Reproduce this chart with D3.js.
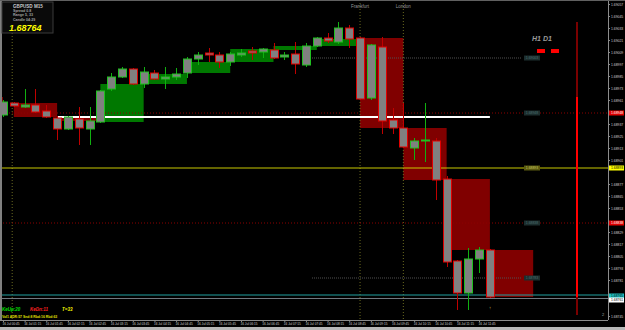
<!DOCTYPE html>
<head>
<meta charset="utf-8">
<script src="https://d3js.org/d3.v7.min.js"></script>
<style>
    body { margin: 0; background: #000; }
    text { font-family: "Liberation Sans", "DejaVu Sans", sans-serif; }
    .yAxis text, .xAxis text { fill: #d0d0d0; font-size: 3.4px; }
    .yAxis path.domain, .xAxis path.domain { stroke: #8c8c8c; }
    .yAxis .tick line, .xAxis .tick line { stroke: #8c8c8c; }
</style>
</head>
<body>
<div id="chart"></div>
<script>
// M15 candles, GBPUSD
var times = ["00:45","01:00","01:15","01:30","01:45","02:00","02:15","02:30","02:45","03:00",
    "03:15","03:30","03:45","04:00","04:15","04:30","04:45","05:00","05:15","05:30",
    "05:45","06:00","06:15","06:30","06:45","07:00","07:15","07:30","07:45","08:00",
    "08:15","08:30","08:45","09:00","09:15","09:30","09:45","10:00","10:15","10:30",
    "10:45","11:00","11:15","11:30","11:45","12:00"];
var opens  = [1.68946,1.68958,1.68954,1.68956,1.68950,1.68943,1.68932,1.68942,1.68932,1.68939,
    1.68972,1.68984,1.68992,1.68977,1.68988,1.68982,1.68984,1.68988,1.69002,1.69008,
    1.69006,1.68999,1.69006,1.69010,1.69009,1.69011,1.69004,1.69007,1.68996,1.69015,
    1.69023,1.69019,1.69033,1.69023,1.68963,1.69014,1.68941,1.68933,1.68913,1.68920,
    1.68920,1.68882,1.68800,1.68768,1.68802,1.68811];
var highs  = [1.68961,1.68959,1.68972,1.68972,1.68956,1.68945,1.68945,1.68954,1.68954,1.68971,
    1.68988,1.68994,1.68993,1.68994,1.68991,1.68994,1.68993,1.69004,1.69009,1.69013,
    1.69009,1.69009,1.69012,1.69014,1.69013,1.69018,1.69009,1.69019,1.69018,1.69024,
    1.69028,1.69039,1.69036,1.69024,1.69017,1.69024,1.68953,1.68958,1.68923,1.68958,
    1.68923,1.68885,1.68801,1.68813,1.68814,1.68812];
var lows   = [1.68944,1.68954,1.68953,1.68948,1.68943,1.68921,1.68931,1.68916,1.68916,1.68938,
    1.68970,1.68983,1.68976,1.68973,1.68981,1.68972,1.68981,1.68983,1.68996,1.68999,
    1.68993,1.68995,1.69004,1.69001,1.69003,1.69002,1.69001,1.68987,1.68994,1.69014,
    1.69018,1.69017,1.69013,1.68961,1.68961,1.68927,1.68927,1.68913,1.68901,1.68899,
    1.68861,1.68794,1.68751,1.68751,1.68788,1.68763];
var closes = [1.68959,1.68955,1.68956,1.68949,1.68944,1.68932,1.68944,1.68933,1.68940,1.68970,
    1.68984,1.68992,1.68977,1.68989,1.68982,1.68984,1.68987,1.69002,1.69006,1.69006,
    1.68999,1.69007,1.69008,1.69008,1.69012,1.69003,1.69006,1.68997,1.69015,1.69023,
    1.69020,1.69033,1.69022,1.68962,1.69016,1.68940,1.68933,1.68914,1.68920,1.68921,
    1.68881,1.68799,1.68768,1.68802,1.68811,1.68764];
var prevHourOpen = 1.68964;

var priceTicks = [1.68745,1.68757,1.68769,1.68781,1.68793,1.68805,1.68817,1.68829,1.68841,
    1.68853,1.68865,1.68877,1.68889,1.68901,1.68913,1.68925,1.68937,1.68949,1.68961,
    1.68973,1.68985,1.68997,1.69009,1.69021,1.69033,1.69045,1.69057];

// levels
var pivotLevels = [1.69003, 1.68948, 1.68893, 1.68838, 1.68783];
var whiteLevel = 1.68944;
var bidPrice = 1.68764, askLine = 1.68766, bidLine = 1.68763;
var rangeBar = [1.69039, 1.68964, 1.68764, 1.68746];

var width = 625, height = 330;
var plotRight = 608, plotBottom = 320;

var svg = d3.select("#chart").append("svg")
    .attr("width", width)
    .attr("height", height)
    .style("display", "block")
    .style("background", "#000");

var y = d3.scaleLinear().domain([1.69061, 1.68743]).range([0, 318]);
var x = d3.scaleLinear().domain([0, 45]).range([3, 3 + 45 * 10.82]);
var bodyW = 8;

var candles = times.map((t, i) => ({
    t: t, i: i, o: opens[i], h: highs[i], l: lows[i], c: closes[i]
}));

// H1 boxes: first hour holds only the first candle
var hours = [{ start: -4, o: prevHourOpen, c: closes[0] }];
for (let s = 1; s < candles.length; s += 4) {
    let grp = candles.slice(s, s + 4);
    hours.push({ start: s, o: grp[0].o, c: grp[grp.length - 1].c });
}

svg.selectAll("rect.hbox")
    .data(hours)
    .enter()
    .append("rect")
    .attr("class", "hbox")
    .attr("x", d => Math.max(0, x(d.start)))
    .attr("width", d => x(d.start + 4) - Math.max(0, x(d.start)))
    .attr("y", d => y(Math.max(d.o, d.c)))
    .attr("height", d => Math.max(2, Math.abs(y(d.o) - y(d.c))))
    .style("fill", d => d.c >= d.o ? "#007800" : "#800000");

// session lines
var sessions = [{ i: 0.85, name: "" }, { i: 33, name: "Frankfurt" }, { i: 37, name: "London" }];
svg.selectAll("line.session")
    .data(sessions)
    .enter()
    .append("line")
    .attr("x1", d => x(d.i)).attr("x2", d => x(d.i))
    .attr("y1", 0).attr("y2", plotBottom)
    .style("stroke", "#6b6b20")
    .style("stroke-dasharray", "1,2");
svg.selectAll("text.session")
    .data(sessions)
    .enter()
    .append("text")
    .attr("x", d => x(d.i))
    .attr("y", 8)
    .style("text-anchor", "middle")
    .style("font-size", "4.5px")
    .style("fill", "#9a9a9a")
    .text(d => d.name);

// pivot levels
var levelStyle = [
    { col: "#505050", dash: "1,1", x1: 312 },
    { col: "#8b0000", dash: "1,2", x1: 0 },
    { col: "#c8c800", dash: null, x1: 0 },
    { col: "#8b0000", dash: "1,2", x1: 0 },
    { col: "#505050", dash: "1,1", x1: 312 }
];
svg.selectAll("line.level")
    .data(pivotLevels)
    .enter()
    .append("line")
    .attr("x1", (d, i) => levelStyle[i].x1)
    .attr("x2", (d, i) => levelStyle[i].dash == "1,1" ? 522 : plotRight)
    .attr("y1", d => y(d)).attr("y2", d => y(d))
    .style("stroke", (d, i) => levelStyle[i].col)
    .style("stroke-dasharray", (d, i) => levelStyle[i].dash);
svg.selectAll("rect.levelLabel")
    .data(pivotLevels)
    .enter()
    .append("rect")
    .attr("x", 524).attr("width", 16)
    .attr("y", d => y(d) - 2.5).attr("height", 5)
    .style("fill", (d, i) => i == 2 ? "#5a5a10" : "#1c2e2e");
svg.selectAll("text.levelLabel")
    .data(pivotLevels)
    .enter()
    .append("text")
    .attr("x", 532).attr("y", d => y(d) + 1.3)
    .style("text-anchor", "middle")
    .style("font-size", "3.4px")
    .style("fill", (d, i) => i == 2 ? "#c8c860" : "#4d6f6f")
    .text(d => d3.format(".5f")(d));

// white level line
svg.append("line")
    .attr("x1", x(5)).attr("x2", x(45))
    .attr("y1", y(whiteLevel)).attr("y2", y(whiteLevel))
    .style("stroke", "#ffffff").style("stroke-width", 2);

// bid / ask lines
svg.append("line")
    .attr("x1", 0).attr("x2", plotRight)
    .attr("y1", y(askLine)).attr("y2", y(askLine))
    .style("stroke", "#20a0a0");
svg.append("line")
    .attr("x1", 0).attr("x2", plotRight)
    .attr("y1", y(bidLine) + 0.5).attr("y2", y(bidLine) + 0.5)
    .style("stroke", "#707880");

// candles
var cg = svg.selectAll("g.candle")
    .data(candles)
    .enter()
    .append("g")
    .attr("class", "candle");
cg.append("line")
    .attr("x1", d => Math.round(x(d.i)) + 0.5).attr("x2", d => Math.round(x(d.i)) + 0.5)
    .attr("y1", d => y(d.h)).attr("y2", d => y(d.l))
    .style("stroke", d => d.c >= d.o ? "#10b010" : "#c00000");
cg.append("rect")
    .attr("x", d => Math.round(x(d.i)) - bodyW / 2 + 0.5)
    .attr("width", bodyW)
    .attr("y", d => y(Math.max(d.o, d.c)))
    .attr("height", d => Math.max(1, Math.abs(y(d.o) - y(d.c))))
    .style("fill", "#808080")
    .style("stroke", d => d.c >= d.o ? "#20c020" : "#e00000")
    .style("stroke-width", 1);

// H1 / D1 range bar
var rb = [
    { a: rangeBar[0], b: rangeBar[1], col: "#7a0000" },
    { a: rangeBar[1], b: rangeBar[2], col: "#ff0000" },
    { a: rangeBar[2], b: rangeBar[3], col: "#7a0000" }
];
svg.selectAll("line.range")
    .data(rb)
    .enter()
    .append("line")
    .attr("x1", 577).attr("x2", 577)
    .attr("y1", d => y(d.a)).attr("y2", d => y(d.b))
    .style("stroke", d => d.col)
    .style("stroke-width", 2);

svg.append("text")
    .attr("x", 532).attr("y", 41)
    .style("font-size", "7px").style("font-weight", "bold").style("font-style", "italic")
    .style("fill", "#9a9a9a")
    .text("H1  D1");
svg.selectAll("rect.tf")
    .data([537, 551])
    .enter()
    .append("rect")
    .attr("x", d => d).attr("y", 49).attr("width", 8).attr("height", 4)
    .style("fill", "#ff0000");

// price axis markers
var markers = [
    { p: pivotLevels[1], bg: "#e00000", fg: "#ffffff" },
    { p: pivotLevels[2], bg: "#ffff00", fg: "#000000" },
    { p: pivotLevels[3], bg: "#e00000", fg: "#ffffff" },
    { p: askLine - 0.00001, bg: "#20c0c0", fg: "#000000" },
    { p: bidLine - 0.00002, bg: "#ffffff", fg: "#000000" }
];

// price axis (labels hidden where a marker covers them)
var yAxis = d3.axisRight(y)
    .tickValues(priceTicks.filter(t => markers.every(m => Math.abs(y(m.p) - y(t)) > 5)))
    .tickSize(2)
    .tickPadding(1)
    .tickFormat(d3.format(".5f"));
svg.append("g")
    .attr("class", "yAxis")
    .attr("transform", `translate(${plotRight}, 0)`)
    .call(yAxis);
svg.select(".yAxis path.domain").attr("d", `M0.5,0V${plotBottom}`);

svg.selectAll("rect.mark")
    .data(markers)
    .enter()
    .append("rect")
    .attr("x", plotRight + 1).attr("width", 15)
    .attr("y", d => y(d.p) - 2.5).attr("height", 5)
    .style("fill", d => d.bg);
svg.selectAll("text.mark")
    .data(markers)
    .enter()
    .append("text")
    .attr("x", plotRight + 3).attr("y", d => y(d.p) + 1.3)
    .style("font-size", "3.4px")
    .style("fill", d => d.fg)
    .text(d => d3.format(".5f")(d.p));

// time axis
var xAxis = d3.axisBottom(x)
    .tickValues(d3.range(0, 46, 2))
    .tickSize(2)
    .tickPadding(1)
    .tickFormat(i => "16 Jul " + times[i]);
svg.append("g")
    .attr("class", "xAxis")
    .attr("transform", `translate(0, ${plotBottom})`)
    .call(xAxis)
    .selectAll("text")
    .style("text-anchor", "start")
    .attr("dx", -1)
    .attr("textLength", 17)
    .attr("lengthAdjust", "spacingAndGlyphs");
svg.select(".xAxis path.domain").attr("d", `M0,0.5H${plotRight}`);

// window edges
svg.append("rect").attr("x", 0).attr("y", 0).attr("width", 2).attr("height", plotBottom)
    .style("fill", "#808080");
svg.append("rect").attr("x", 0).attr("y", 327).attr("width", width).attr("height", 3)
    .style("fill", "#b8b8b8");
svg.append("line").attr("x1", 0).attr("x2", width).attr("y1", 0.5).attr("y2", 0.5)
    .style("stroke", "#606060");

// info panel
var panel = svg.append("g").attr("transform", "translate(2,2)");
panel.append("rect").attr("width", 51).attr("height", 31)
    .style("fill", "#0a0a0a").style("stroke", "#3a3a3a");
panel.append("text").attr("x", 11).attr("y", 5.5)
    .style("font-size", "4.6px").style("font-weight", "bold").style("fill", "#c8c8c8")
    .text("GBPUSD   M15");
var info = [["Spread", "0.8"], ["Range", "5, 33"], ["Candle", "04:29"]];
panel.selectAll("text.info")
    .data(info)
    .enter()
    .append("text")
    .attr("x", 11).attr("y", (d, i) => 10 + i * 4.4)
    .style("font-size", "3.6px").style("font-weight", "bold").style("fill", "#a0a0a0")
    .text(d => d[0] + "    " + d[1]);
panel.append("text").attr("x", 7).attr("y", 29)
    .style("font-size", "9px").style("font-weight", "bold").style("font-style", "italic")
    .style("fill", "#ffff00")
    .text(d3.format(".5f")(bidPrice));

// bottom status texts
var status1 = [{ t: "KeUp:20", col: "#00e000", x: 2 }, { t: "KeDn:11", col: "#ff2020", x: 30 },
    { t: "T=33", col: "#ffff00", x: 62 }];
svg.selectAll("text.st1")
    .data(status1)
    .enter()
    .append("text")
    .attr("x", d => d.x).attr("y", 311)
    .style("font-size", "4.5px").style("font-weight", "bold").style("font-style", "italic")
    .style("fill", d => d.col)
    .text(d => d.t);
svg.append("text").attr("x", 2).attr("y", 318)
    .style("font-size", "3.4px").style("font-weight", "bold").style("fill", "#e0e000")
    .text("Vol1  ADR:57  Snd:8  Rbd:16  Rbd:63");

svg.append("text").attr("x", 602).attr("y", 316)
    .style("font-size", "4px").style("fill", "#a0a0a0").text("2");
svg.append("text").attr("x", x(45)).attr("y", 309)
    .style("font-size", "4px").style("fill", "#ffe080").style("text-anchor", "middle").text("↑");
</script>
</body>
